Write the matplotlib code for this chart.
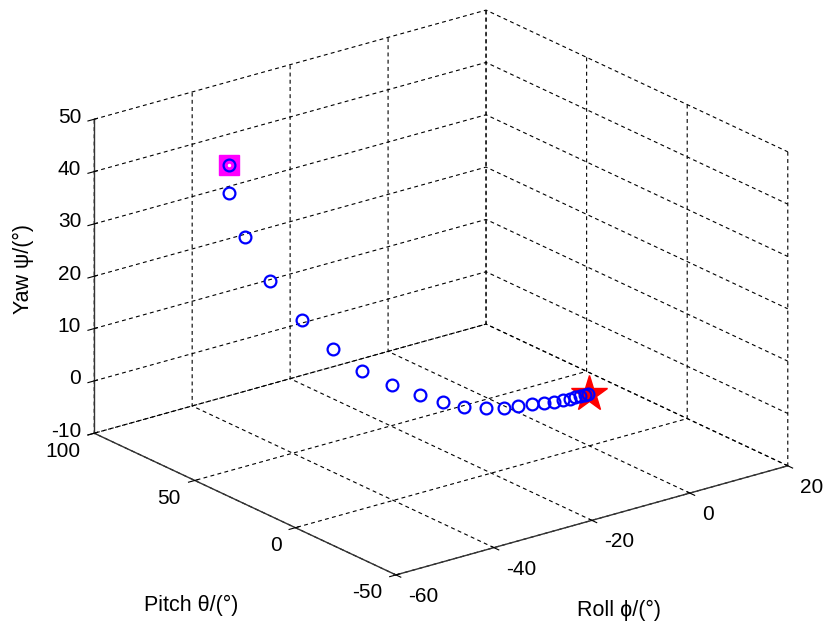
import matplotlib
matplotlib.use('Agg')
import matplotlib.pyplot as plt
from mpl_toolkits.mplot3d import proj3d

plt.rcParams['font.family'] = ['Liberation Sans', 'DejaVu Sans']
plt.rcParams['axes.unicode_minus'] = False

# attitude trajectory (degrees)
roll = [-40.4, -40.4, -38.6, -35.8, -32.2, -28.7, -25.4, -22.1, -19.0, -16.4, -14.0, -11.6,
        -9.6, -8.0, -6.4, -5.1, -4.0, -2.9, -2.2, -1.6, -1.0, -0.5, -0.2]
pitch = [80.7, 80.7, 77.1, 71.5, 64.4, 57.4, 50.9, 44.3, 37.9, 32.8, 28.0, 23.1,
         19.2, 16.0, 12.8, 10.1, 7.9, 5.9, 4.3, 3.2, 2.1, 1.0, 0.3]
yaw = [39.6, 34.2, 26.1, 17.9, 10.8, 5.6, 1.8, -0.7, -2.2, -3.3, -4.0, -3.9,
       -3.7, -3.2, -2.6, -2.3, -2.0, -1.5, -1.2, -0.8, -0.6, -0.3, -0.1]

# target attitude
target_roll, target_pitch, target_yaw = [0.0], [0.0], [0.0]

roll_ticks = [-60, -40, -20, 0, 20]
pitch_ticks = [-50, 0, 50, 100]
yaw_ticks = [-10, 0, 10, 20, 30, 40, 50]

fig = plt.figure(figsize=(8.3, 6.28), dpi=100)
ax = fig.add_axes([0.1428, 0.0207, 0.7566, 1.0], projection='3d',
                  proj_type='ortho', computed_zorder=False)
ax.view_init(elev=21.2, azim=-127.6)
ax.set_box_aspect((1, 1, 0.681), zoom=1.2)

ax.set_xlim(-60, 20)
ax.set_ylim(-50, 100)
ax.set_zlim(-10, 50)
ax.set_xticks(roll_ticks)
ax.set_yticks(pitch_ticks)
ax.set_zticks(yaw_ticks)
ax.xaxis.set_ticklabels([])
ax.yaxis.set_ticklabels([])
ax.zaxis.set_ticklabels([])

for axis in (ax.xaxis, ax.yaxis, ax.zaxis):
    axis.set_pane_color((1, 1, 1, 1))
    axis._axinfo['grid'].update(color='black', linewidth=0.8, linestyle=(0, (3.5, 3)))
    axis._axinfo['axisline'].update(color='#333333', linewidth=1.0)
    axis.line.set_color('#333333')
    axis.line.set_linewidth(1.0)

ax.plot(target_roll, target_pitch, target_yaw, linestyle='none', marker='*',
        markersize=27, color='red', zorder=2)
ax.plot(roll[:1], pitch[:1], yaw[:1], linestyle='none', marker='s', markersize=15,
        color='magenta', zorder=3)
ax.plot(roll, pitch, yaw, linestyle='none', marker='o', markersize=8.5,
        markerfacecolor='none', markeredgecolor='blue', markeredgewidth=1.6, zorder=4)
ax.plot(roll[:1], pitch[:1], yaw[:1], linestyle='none', marker='.', markersize=3,
        color='white', zorder=5)

# MATLAB-style tick labels placed next to the axis edges
M = ax.get_proj()


def tick_label(x, y, z, text, dx, dy, ha):
    px, py, _ = proj3d.proj_transform(x, y, z, M)
    ax.annotate(text, (px, py), xytext=(dx, dy), textcoords='offset pixels',
                ha=ha, va='center', fontsize=15, annotation_clip=False)


for v in roll_ticks:
    tick_label(v, -50, -10, str(v), 12, -21.5, 'left')
for v in pitch_ticks:
    tick_label(-60, v, -10, str(v), -14, -18, 'right')
for v in yaw_ticks:
    tick_label(-60, 100, v, str(v), -13, 2, 'right')

fig.text(23 / 830, 1 - 269 / 628, 'Yaw ψ/(°)', rotation=90, fontsize=15.5,
         ha='center', va='center')
fig.text(191 / 830, 1 - 605 / 628, 'Pitch θ/(°)', fontsize=15.5, ha='center', va='center')
fig.text(619 / 830, 1 - 610 / 628, 'Roll ϕ/(°)', fontsize=15.5, ha='center', va='center')

fig.savefig('out.png', dpi=100)
